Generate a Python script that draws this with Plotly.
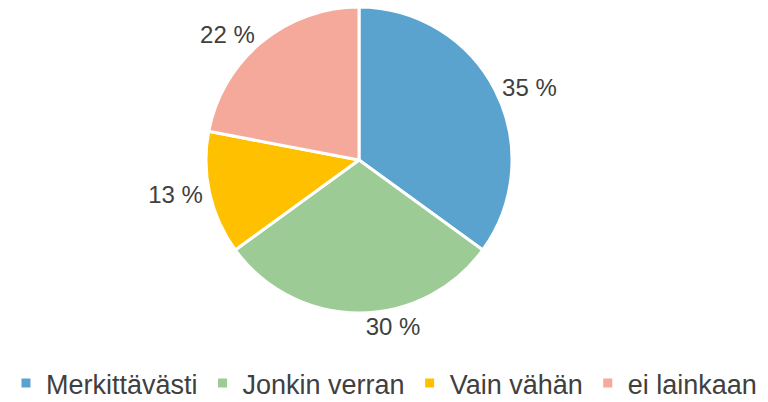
import plotly.graph_objects as go

labels = ["Merkittävästi", "Jonkin verran", "Vain vähän", "ei lainkaan"]
values = [35, 30, 13, 22]
colors = ["#5BA3CF", "#9DCB95", "#FFC000", "#F4A99A"]
texts = [f"{v} %" for v in values]

fig = go.Figure(go.Pie(
    labels=labels, values=values, sort=False, direction="clockwise", rotation=0,
    marker=dict(colors=colors, line=dict(color="white", width=3)),
    text=texts, textinfo="text", textposition="outside",
    textfont=dict(family="Liberation Sans, Arial", size=24, color="#404040"),
    domain=dict(x=[206/768, 512/768], y=[1-313/402, 1-7/402]),
    hoverinfo="label+percent",
))
fig.update_layout(
    width=768, height=402, margin=dict(l=0, r=0, t=0, b=0, autoexpand=False),
    paper_bgcolor="white", plot_bgcolor="white",
    showlegend=True,
    legend=dict(orientation="h", x=0.5, xanchor="center", y=-0.015, yanchor="bottom",
                font=dict(family="Liberation Sans, Arial", size=27, color="#404040"),
                itemwidth=30, traceorder="normal"),
)
fig.write_html("out.html", config={"displayModeBar": False},
               post_script="document.body.style.margin='0px';")
